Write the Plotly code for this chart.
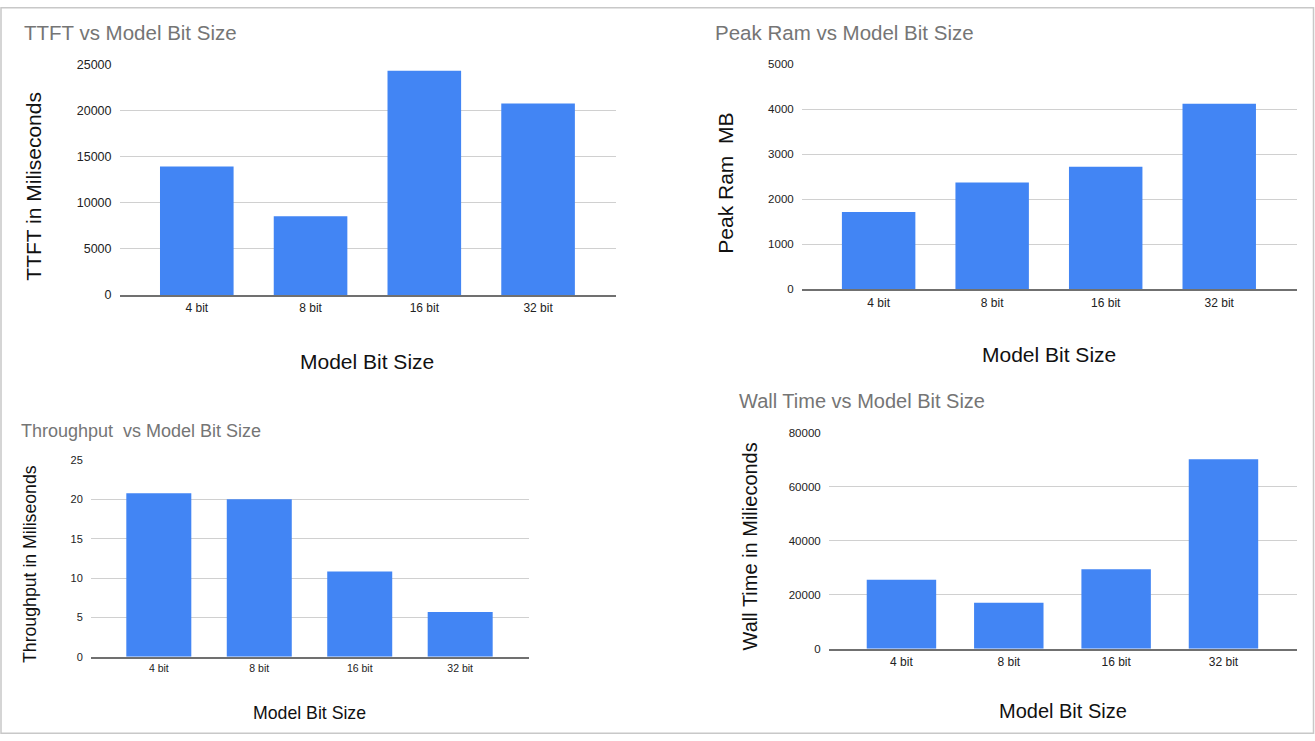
import plotly.graph_objects as go

W, H = 1315, 741

categories = ["4 bit", "8 bit", "16 bit", "32 bit"]
ttft_ms = [13950, 8550, 24350, 20780]
peak_ram_mb = [1714, 2370, 2720, 4120]
throughput = [20.8, 20.05, 10.85, 5.7]
wall_time_ms = [25550, 17040, 29380, 70120]

titles = ["TTFT vs Model Bit Size", "Peak Ram vs Model Bit Size",
          "Throughput  vs Model Bit Size", "Wall Time vs Model Bit Size"]
ytitles = ["TTFT in Miliseconds", "Peak Ram  MB",
           "Throughput in Miliseonds", "Wall Time in Milieconds"]
xtitle = "Model Bit Size"
yranges = [25000, 5000, 25, 80000]
ydticks = [5000, 1000, 5, 20000]

FONT = "Liberation Sans, Arial, sans-serif"
BAR = "#4285F4"

# pixel boxes of the plot areas in the target picture: (x0, x1, ytop, ybottom)
boxes = [(120, 616, 65.3, 295), (802, 1297, 64.7, 289.3),
         (91, 529, 460, 656), (829, 1297, 432.3, 648)]
tickfs = [12.5, 11.5, 11, 11.5]
xtickfs = [12, 12, 10.5, 12]
titlefs = [20.5, 20.5, 18, 20]
axtfs = [21, 21, 17.7, 20]
title_pos = [(22, 33), (713, 33), (19, 431), (737, 401)]
ytitle_pos = [(34, 187), (726, 184), (30.5, 564), (750, 546)]
xtitle_pos = [(367, 361), (1049, 354), (309.5, 712), (1063, 710)]

series = [ttft_ms, peak_ram_mb, throughput, wall_time_ms]

# the photographed page shows the figure vertically offset/scaled:
# y_photo ~= 7.7 + 0.979 * y_fig  -> invert so target positions land right
OFF, SC = 7.7, 0.979

def px(x):
    return x / W

def py(y):
    yf = (y - OFF) / SC
    return 1 - yf / H

fig = go.Figure()
layout = dict(
    width=W, height=H, margin=dict(l=0, r=0, t=0, b=0),
    paper_bgcolor="white", plot_bgcolor="white",
    showlegend=False, bargap=0.353, font=dict(family=FONT, color="#222"),
)
annotations = []
for i in range(4):
    sfx = "" if i == 0 else str(i + 1)
    x0, x1, yt, yb = boxes[i]
    fig.add_trace(go.Bar(x=categories, y=series[i], marker=dict(color=BAR, line=dict(width=0)),
                         xaxis="x" + sfx, yaxis="y" + sfx, hoverinfo="x+y"))
    layout["xaxis" + sfx] = dict(
        domain=[px(x0), px(x1)], anchor="y" + sfx, type="category",
        range=[-0.675, 3.685], showgrid=False, zeroline=False,
        showline=True, linecolor="#707070", linewidth=2,
        ticks="outside", ticklen=1, tickcolor="rgba(0,0,0,0)",
        tickfont=dict(size=xtickfs[i], color="#222", family=FONT), fixedrange=True,
    )
    layout["yaxis" + sfx] = dict(
        domain=[py(yb), py(yt)], anchor="x" + sfx,
        range=[0, yranges[i]], dtick=ydticks[i], tick0=0, tickformat="d",
        showgrid=True, gridcolor="#d0d0d0", gridwidth=1, zeroline=False,
        showline=False, ticks="outside", ticklen=5, tickcolor="rgba(0,0,0,0)",
        tickfont=dict(size=tickfs[i], color="#222", family=FONT), fixedrange=True,
    )
    tx, ty = title_pos[i]
    annotations.append(dict(text=titles[i], x=px(tx), y=py(ty), xref="paper", yref="paper",
                            xanchor="left", yanchor="middle", showarrow=False,
                            font=dict(size=titlefs[i], color="#757575", family=FONT)))
    yx, yy = ytitle_pos[i]
    annotations.append(dict(text=ytitles[i], x=px(yx), y=py(yy), xref="paper", yref="paper",
                            xanchor="center", yanchor="middle", textangle=-90, showarrow=False,
                            font=dict(size=axtfs[i], color="#111", family=FONT)))
    xx, xy = xtitle_pos[i]
    annotations.append(dict(text=xtitle, x=px(xx), y=py(xy), xref="paper", yref="paper",
                            xanchor="center", yanchor="middle", showarrow=False,
                            font=dict(size=axtfs[i], color="#111", family=FONT)))

layout["annotations"] = annotations
layout["shapes"] = [dict(type="rect", xref="paper", yref="paper",
                         x0=px(1), x1=px(1313.5), y0=0.001, y1=0.999,
                         line=dict(color="#c8c8c8", width=1.5))]
fig.update_layout(**layout)

fig.write_html("out.html")
